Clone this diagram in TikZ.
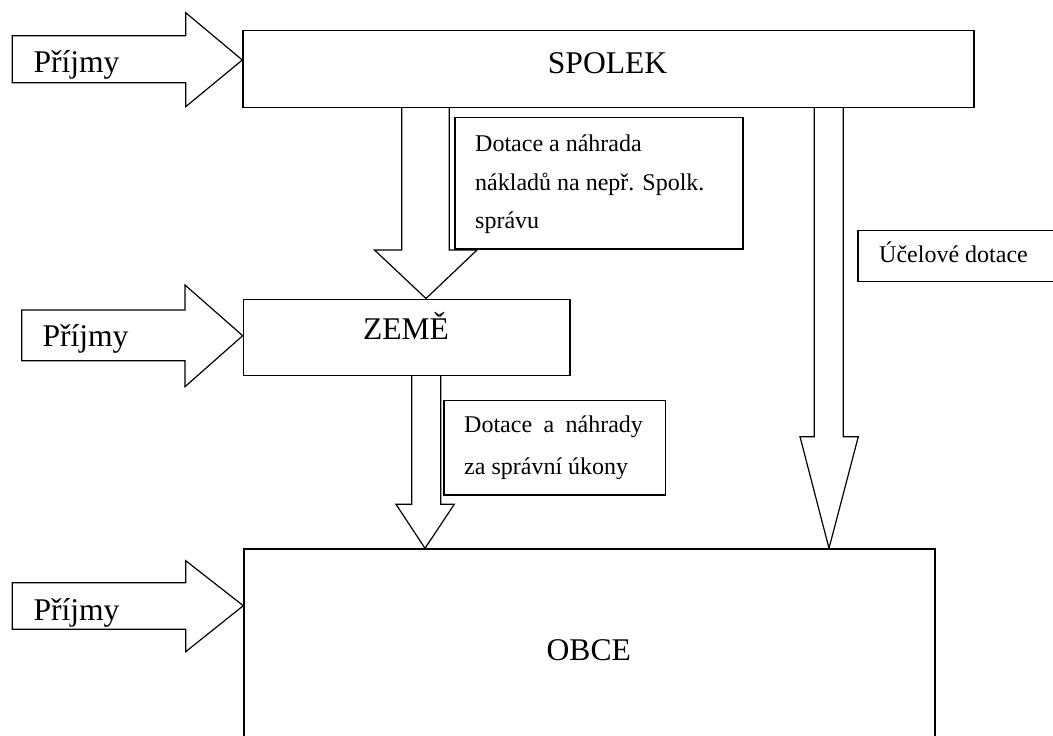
\documentclass[tikz,border=0pt]{standalone}
\usepackage{fontspec}
\setmainfont{Liberation Serif}
\begin{document}
\begin{tikzpicture}[x=1pt,y=-1pt,
  ln/.style={draw=black,line width=1.2pt,line join=miter},
  boxnode/.style={ln,fill=white,anchor=north west,inner sep=0pt},
  big/.style={font=\fontsize{31.6}{38}\selectfont,inner sep=0pt},
  small/.style={font=\fontsize{24}{29}\selectfont,inner sep=0pt,anchor=base west}]
\useasboundingbox (0,0) rectangle (1053,736);
\clip (0,0) rectangle (1053,736);
\fill[white] (0,0) rectangle (1053,736);

% coordinates of arrow tips
\coordinate (t1) at (426,298.5);
\coordinate (t2) at (425,548.3);
\coordinate (t3) at (829,548.3);
\coordinate (s1) at (242.3,60);
\coordinate (s2) at (242.7,335.7);
\coordinate (s3) at (243.3,605.7);

% income arrows
\draw[ln,fill=white] (12.3,35.7) -- (185.7,35.7) -- (185.7,12.7) -- (s1) -- (185.7,106.7) -- (185.7,82.7) -- (12.3,82.7) -- cycle;
\draw[ln,fill=white] (21.7,310) -- (185,310) -- (185,285) -- (s2) -- (185,386.7) -- (185,360.7) -- (21.7,360.7) -- cycle;
\draw[ln,fill=white] (12.3,582.7) -- (185.7,582.7) -- (185.7,560.7) -- (s3) -- (185.7,651.7) -- (185.7,629.3) -- (12.3,629.3) -- cycle;

% down arrows
\draw[ln,fill=white] (401.7,106.7) -- (401.7,250) -- (374.5,250) -- (t1) -- (477,250) -- (449.3,250) -- (449.3,106.7);
\draw[ln,fill=white] (411.7,375) -- (411.7,504.3) -- (396,504.3) -- (t2) -- (454.3,504.3) -- (440.7,504.3) -- (440.7,375);
\draw[ln,fill=white] (814.3,106.7) -- (814.3,436.7) -- (800,436.7) -- (t3) -- (858.3,436.7) -- (843.3,436.7) -- (843.3,106.7);

% main boxes
\node[boxnode,minimum width=731pt,minimum height=77.2pt] (spolek) at (242.3,29.5) {};
\node[boxnode,minimum width=326.6pt,minimum height=76.5pt] (zeme) at (242.7,298.5) {};
\node[boxnode,minimum width=691pt,minimum height=200pt] (obce) at (243.3,548.3) {};

% label boxes
\node[boxnode,minimum width=288pt,minimum height=131.6pt] (lab1) at (454.3,116.7) {};
\node[boxnode,minimum width=221.7pt,minimum height=94.3pt] (lab2) at (443.3,400) {};
\node[boxnode,minimum width=220pt,minimum height=50.7pt] (lab3) at (857.3,230) {};

% texts
\node[big,anchor=base] (tspolek) at (607.6,73) {SPOLEK};
\node[big,anchor=base] (tzeme) at (406,339.3) {ZEMĚ};
\node[big,anchor=base] (tobce) at (588.8,660.7) {OBCE};
\node[big,anchor=base west] (p1) at (33.3,72.3) {Příjmy};
\node[big,anchor=base west] (p2) at (42.3,346) {Příjmy};
\node[big,anchor=base west] (p3) at (33.3,620) {Příjmy};

\node[small] (l1a) at (475,151.7) {Dotace a náhrada};
\node[small] (l1b) at (475,190) {nákladů na nepř. Spolk.};
\node[small] (l1c) at (475,228.3) {správu};

\node[small] (l2a) at (464,432.7) {\makebox[178.7pt][s]{Dotace a náhrady}};
\node[small] (l2b) at (464,474.3) {za správní úkony};

\node[small] (l3) at (879,262.7) {Účelové dotace};
\end{tikzpicture}
\end{document}
